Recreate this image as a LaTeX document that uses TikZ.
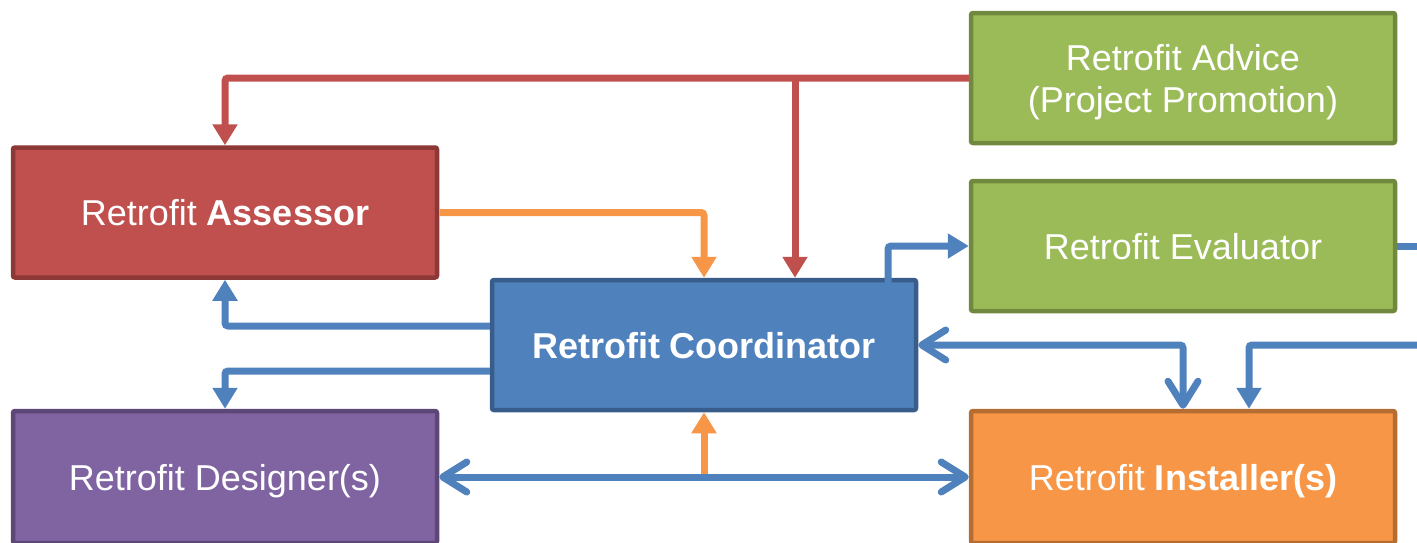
\documentclass[tikz,border=0pt]{standalone}
\usepackage{fontspec}
\setmainfont{Liberation Sans}
\usetikzlibrary{arrows.meta}
\definecolor{rfill}{HTML}{C0504D}\definecolor{rbord}{HTML}{8C3836}
\definecolor{gfill}{HTML}{9BBB59}\definecolor{gbord}{HTML}{71893F}
\definecolor{bfill}{HTML}{4F81BD}\definecolor{bbord}{HTML}{385D8A}
\definecolor{pfill}{HTML}{8064A2}\definecolor{pbord}{HTML}{5C4776}
\definecolor{ofill}{HTML}{F79646}\definecolor{obord}{HTML}{B66D31}
\tikzset{
  box/.style={rectangle, draw, line width=4.5pt, rounded corners=2pt,
    minimum width=424pt, minimum height=130pt, inner sep=0pt,
    text=white, align=center, font=\fontsize{36}{42}\selectfont},
  one/.style={box, text height=26pt, text depth=0pt},
  conn/.style={line width=7pt, rounded corners=3pt},
  tri/.style={-{Triangle[length=21pt,width=24pt]}},
  barbs/.style={{Straight Barb[length=24pt,width=30pt,round]}-{Straight Barb[length=24pt,width=30pt,round]}},
}
\begin{document}
\begin{tikzpicture}[x=1pt,y=-1pt]
\useasboundingbox (0,0) rectangle (1417,542);
% boxes
\node[box, fill=gfill, draw=gbord] (advice) at (1183,78) {\rule{0pt}{33.5pt}Retrofit Advice\\(Project Promotion)};
\node[one, fill=rfill, draw=rbord] (assessor) at (225,212.5) {Retrofit \textbf{Assessor}};
\node[one, fill=gfill, draw=gbord] (evaluator) at (1183,246) {Retrofit Evaluator};
\node[one, fill=bfill, draw=bbord] (coord) at (704,345) {\textbf{Retrofit Coordinator}};
\node[one, fill=pfill, draw=pbord, minimum height=132pt] (designer) at (225,477) {Retrofit Designer(s)};
\node[one, fill=ofill, draw=obord, minimum height=132pt] (installer) at (1183,477) {Retrofit \textbf{Installer(s)}};
% junction coordinates
\coordinate (rj) at (795,78);
\coordinate (oj) at (704,477);
\coordinate (ev) at (888,283);
\coordinate (er) at (1425,246);
\coordinate (ir) at (1425,345);
% red connectors
\draw[conn, draw=rfill, tri] (advice.west) -| (assessor.north);
\draw[conn, draw=rfill, tri] (rj) -- (rj |- coord.north);
% orange connectors
\draw[conn, draw=ofill, tri] (assessor.east) -| (coord.north);
\draw[conn, draw=ofill, tri] (oj) -- (coord.south);
% blue connectors
\draw[conn, draw=bfill, tri] (ev) |- (evaluator.west);
\draw[conn, draw=bfill, tri] (coord.west |- 0,326) -| (assessor.south);
\draw[conn, draw=bfill, tri] (coord.west |- 0,371) -| (designer.north);
\draw[conn, draw=bfill, barbs] (designer.east |- 0,477) -- (installer.west |- 0,477);
\draw[conn, draw=bfill, barbs] (coord.east) -| (installer.north);
\draw[conn, draw=bfill] (evaluator.east) -- (er);
\draw[conn, draw=bfill, tri] (ir) -| (installer.north -| 1249,0);
\end{tikzpicture}
\end{document}
